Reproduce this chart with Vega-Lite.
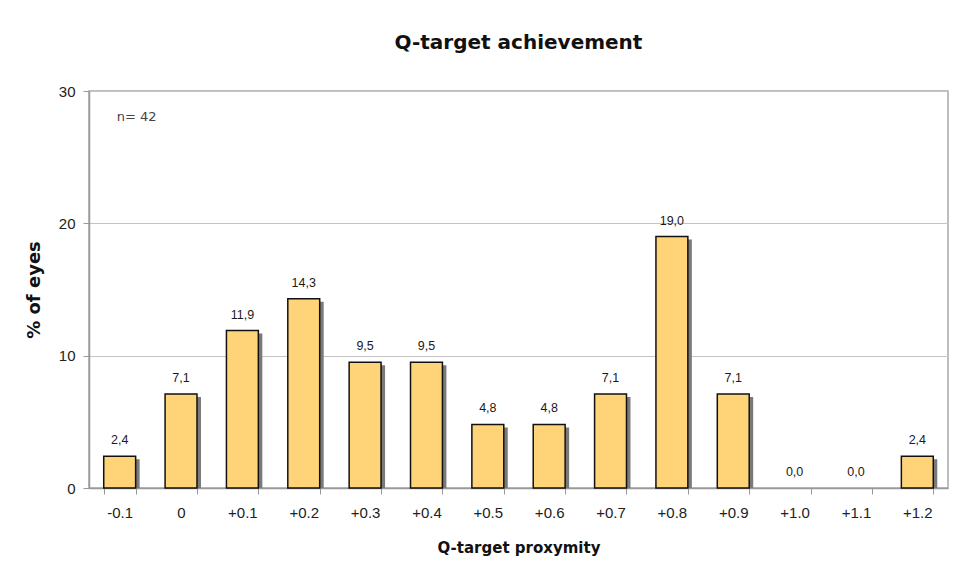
{
  "$schema": "https://vega.github.io/schema/vega-lite/v6.json",
  "autosize": "none",
  "width": 859,
  "height": 397,
  "padding": {"left": 89, "top": 91, "right": 9, "bottom": 85},
  "background": "white",
  "config": {
    "locale": {"number": {"decimal": ",", "thousands": ".", "grouping": [3], "currency": ["", ""]}},
    "view": {"stroke": "#a8a8a8", "strokeWidth": 1.5},
    "font": "Liberation Sans"
  },
  "title": {
    "text": "Q-target achievement",
    "font": "DejaVu Sans",
    "fontSize": 20,
    "fontWeight": "bold",
    "color": "#111111",
    "anchor": "middle",
    "offset": 31
  },
  "data": {
    "values": [
      {"proximity": "-0.1", "pct": 2.4},
      {"proximity": "0", "pct": 7.1},
      {"proximity": "+0.1", "pct": 11.9},
      {"proximity": "+0.2", "pct": 14.3},
      {"proximity": "+0.3", "pct": 9.5},
      {"proximity": "+0.4", "pct": 9.5},
      {"proximity": "+0.5", "pct": 4.8},
      {"proximity": "+0.6", "pct": 4.8},
      {"proximity": "+0.7", "pct": 7.1},
      {"proximity": "+0.8", "pct": 19.0},
      {"proximity": "+0.9", "pct": 7.1},
      {"proximity": "+1.0", "pct": 0.0},
      {"proximity": "+1.1", "pct": 0.0},
      {"proximity": "+1.2", "pct": 2.4}
    ]
  },
  "encoding": {
    "x": {
      "field": "proximity",
      "type": "ordinal",
      "sort": ["-0.1", "0", "+0.1", "+0.2", "+0.3", "+0.4", "+0.5", "+0.6", "+0.7", "+0.8", "+0.9", "+1.0", "+1.1", "+1.2"],
      "scale": {"paddingInner": 0.48, "paddingOuter": 0.24},
      "axis": {
        "title": "Q-target proxymity",
        "titleFont": "DejaVu Sans",
        "titleFontSize": 15,
        "titleFontWeight": "bold",
        "titleColor": "#111111",
        "titlePadding": 20,
        "labelAngle": 0,
        "labelFontSize": 15,
        "labelColor": "#222222",
        "labelPadding": 11,
        "tickBand": "extent",
        "tickSize": 6,
        "tickColor": "#999999",
        "domainColor": "#999999",
        "domainWidth": 1.5,
        "grid": false
      }
    },
    "y": {
      "field": "pct",
      "type": "quantitative",
      "scale": {"domain": [0, 30], "nice": false},
      "axis": {
        "title": "% of eyes",
        "titleFont": "DejaVu Sans",
        "titleFontSize": 18,
        "titleFontWeight": "bold",
        "titleColor": "#111111",
        "titlePadding": 15,
        "values": [0, 10, 20, 30],
        "format": "d",
        "labelFontSize": 15,
        "labelColor": "#222222",
        "labelPadding": 8,
        "tickSize": 6,
        "tickColor": "#999999",
        "domainColor": "#999999",
        "domainWidth": 1.5,
        "grid": true,
        "gridColor": "#c4c4c4",
        "gridWidth": 1
      }
    }
  },
  "layer": [
    {
      "transform": [{"filter": "datum.pct > 0"}],
      "mark": {"type": "bar", "color": "#7a7a7a", "xOffset": 4, "yOffset": 3, "y2Offset": 0, "clip": true}
    },
    {
      "transform": [{"filter": "datum.pct > 0"}],
      "mark": {"type": "bar", "fill": "#FFD479", "stroke": "#111111", "strokeWidth": 1.5}
    },
    {
      "mark": {"type": "text", "baseline": "alphabetic", "dy": -12, "fontSize": 12.5, "color": "#1a1a1a"},
      "encoding": {
        "text": {"field": "pct", "type": "quantitative", "format": ".1f"}
      }
    },
    {
      "data": {"values": [{"proximity": "-0.1", "pct": 28, "label": "n= 42"}]},
      "mark": {"type": "text", "align": "left", "baseline": "middle", "font": "DejaVu Sans", "fontSize": 13, "color": "#444444", "dx": -3},
      "encoding": {
        "text": {"field": "label"}
      }
    }
  ]
}
